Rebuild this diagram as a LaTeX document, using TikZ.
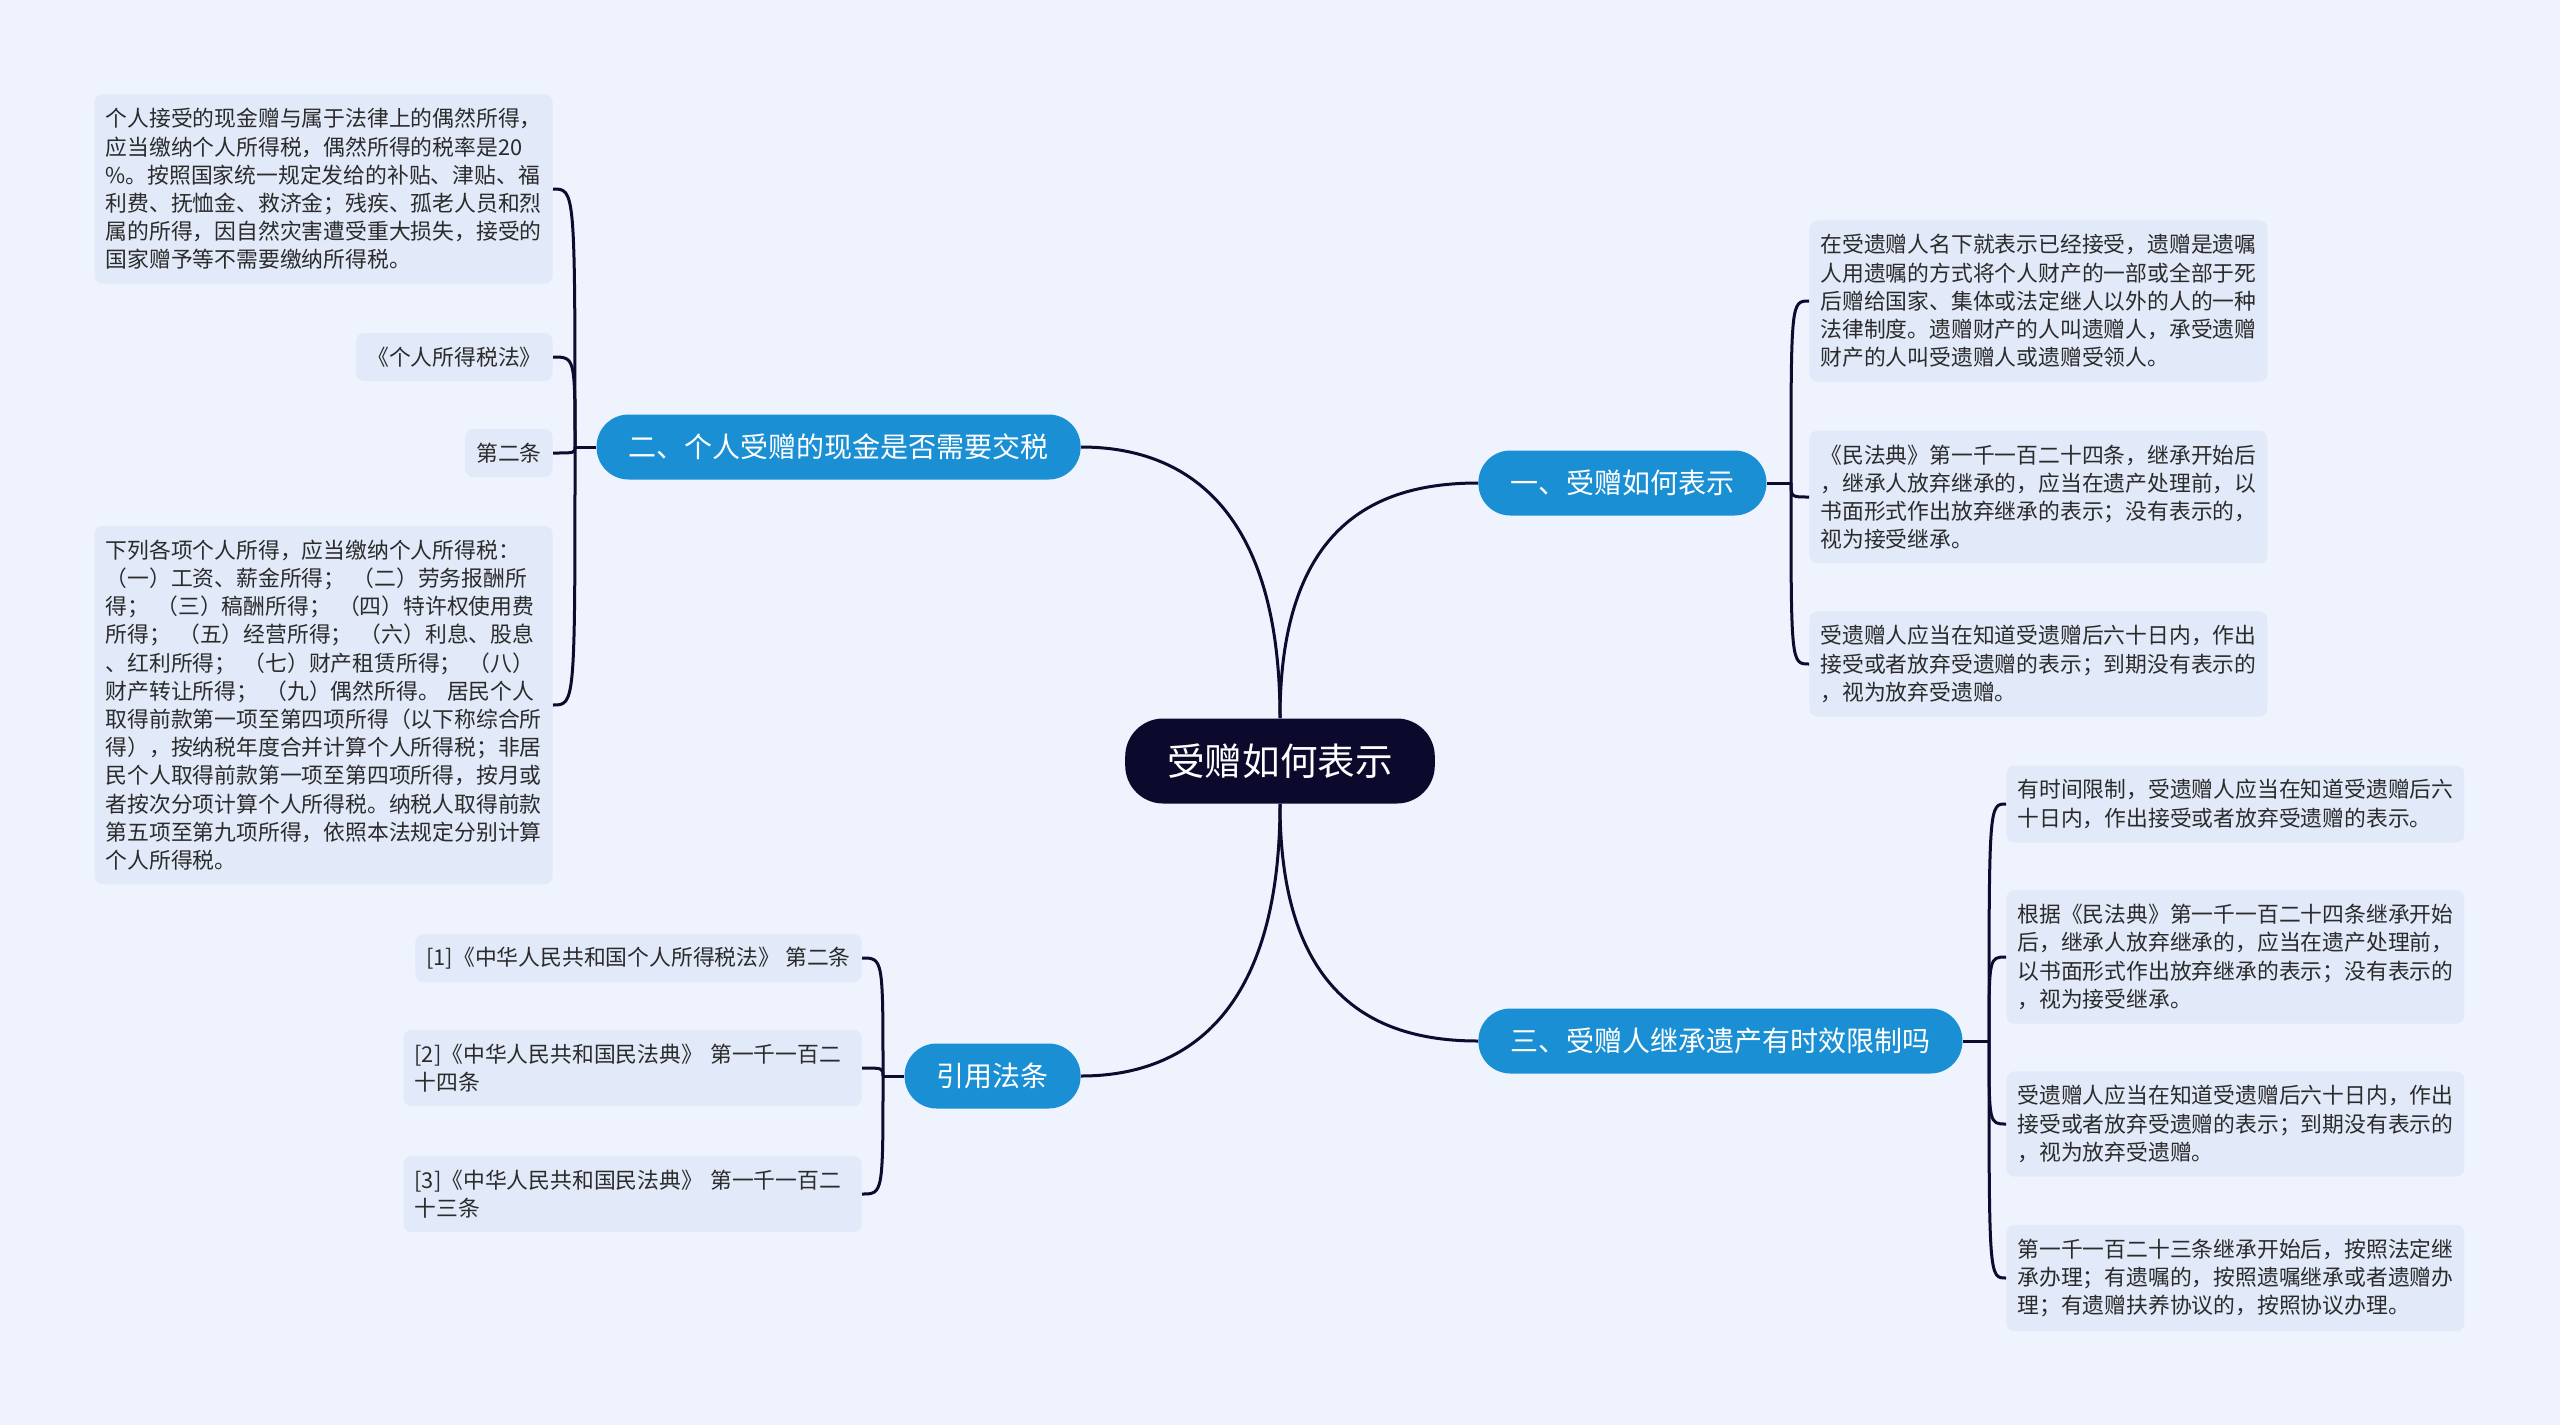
\documentclass[tikz,border=0pt]{standalone}
\usepackage{fontspec}
\setmainfont{Noto Sans CJK SC}
\usepackage{tikz}
\usetikzlibrary{calc}

\definecolor{bgcol}{HTML}{EEF3FD}
\definecolor{leafcol}{HTML}{E2EAF9}
\definecolor{branchcol}{HTML}{1B8FD3}
\definecolor{rootcol}{HTML}{0B0A2C}
\definecolor{linecol}{HTML}{0D0B2E}
\definecolor{textcol}{HTML}{2B2B2B}

\begin{document}
\begin{tikzpicture}[x=0.5pt,y=-0.5pt]
	    \tikzstyle{central}=[fill=rootcol,text=white,rounded corners=19pt,minimum height=42.5pt,inner xsep=21pt,font=\fontsize{18.8pt}{22pt}\selectfont]
	    \tikzstyle{branch}=[fill=branchcol,text=white,rounded corners=16pt,minimum height=32.5pt,inner xsep=16pt,font=\fontsize{14pt}{16pt}\selectfont]
	    \tikzstyle{leaf}=[fill=leafcol,text=textcol,rounded corners=4pt,text width=218pt,align=left,inner xsep=5.5pt,inner ysep=7pt,font=\fontsize{10.9pt}{14.1pt}\selectfont]
	    \tikzstyle{note}=[fill=leafcol,text=textcol,rounded corners=4pt,minimum height=24pt,inner xsep=5.5pt,font=\fontsize{10.9pt}{14.1pt}\selectfont]
	    \tikzstyle{link}=[draw=linecol,line width=1.5pt]

	    \fill[bgcol] (0,0) rectangle (2560,1425);
	    \useasboundingbox (0,0) rectangle (2560,1425);

	    \node[central](root) at (1280,761){受赠如何表示};

	    \node[branch,anchor=west](b1) at (1478,483){一、受赠如何表示};
	    \node[branch,anchor=east](b2) at (1081,447){二、个人受赠的现金是否需要交税};
	    \node[branch,anchor=west](b3) at (1478,1041){三、受赠人继承遗产有时效限制吗};
	    \node[branch,anchor=east](b4) at (1081,1076){引用法条};

	    \coordinate (s1) at (1791,483);
	    \coordinate (s2) at (575,447);
	    \coordinate (s3) at (1989,1041);
	    \coordinate (s4) at (883,1076);

	    \node[leaf,anchor=west](l1a) at (1809,301){在受遗赠人名下就表示已经接受，遗赠是遗嘱\\人用遗嘱的方式将个人财产的一部或全部于死\\后赠给国家、集体或法定继人以外的人的一种\\法律制度。遗赠财产的人叫遗赠人，承受遗赠\\财产的人叫受遗赠人或遗赠受领人。};
	    \node[leaf,anchor=west](l1b) at (1809,497){《民法典》第一千一百二十四条，继承开始后\\，继承人放弃继承的，应当在遗产处理前，以\\书面形式作出放弃继承的表示；没有表示的，\\视为接受继承。};
	    \node[leaf,anchor=west](l1c) at (1809,664){受遗赠人应当在知道受遗赠后六十日内，作出\\接受或者放弃受遗赠的表示；到期没有表示的\\，视为放弃受遗赠。};

	    \node[leaf,anchor=east](l2a) at (553,189){个人接受的现金赠与属于法律上的偶然所得，\\应当缴纳个人所得税，偶然所得的税率是20\\\%。按照国家统一规定发给的补贴、津贴、福\\利费、抚恤金、救济金；残疾、孤老人员和烈\\属的所得，因自然灾害遭受重大损失，接受的\\国家赠予等不需要缴纳所得税。};
	    \node[note,anchor=east](l2b) at (553,357){《个人所得税法》};
	    \node[note,anchor=east](l2c) at (553,453){第二条};
	    \node[leaf,anchor=east](l2d) at (553,705){下列各项个人所得，应当缴纳个人所得税：\\（一）工资、薪金所得； （二）劳务报酬所\\得； （三）稿酬所得； （四）特许权使用费\\所得； （五）经营所得； （六）利息、股息\\、红利所得； （七）财产租赁所得； （八）\\财产转让所得； （九）偶然所得。 居民个人\\取得前款第一项至第四项所得（以下称综合所\\得），按纳税年度合并计算个人所得税；非居\\民个人取得前款第一项至第四项所得，按月或\\者按次分项计算个人所得税。纳税人取得前款\\第五项至第九项所得，依照本法规定分别计算\\个人所得税。};

	    \node[leaf,anchor=west](l3a) at (2006,804){有时间限制，受遗赠人应当在知道受遗赠后六\\十日内，作出接受或者放弃受遗赠的表示。};
	    \node[leaf,anchor=west](l3b) at (2006,957){根据《民法典》第一千一百二十四条继承开始\\后，继承人放弃继承的，应当在遗产处理前，\\以书面形式作出放弃继承的表示；没有表示的\\，视为接受继承。};
	    \node[leaf,anchor=west](l3c) at (2006,1124){受遗赠人应当在知道受遗赠后六十日内，作出\\接受或者放弃受遗赠的表示；到期没有表示的\\，视为放弃受遗赠。};
	    \node[leaf,anchor=west](l3d) at (2006,1278){第一千一百二十三条继承开始后，按照法定继\\承办理；有遗嘱的，按照遗嘱继承或者遗赠办\\理；有遗赠扶养协议的，按照协议办理。};

	    \node[note,anchor=east](l4a) at (862,958){[1]《中华人民共和国个人所得税法》 第二条};
	    \node[leaf,anchor=east](l4b) at (862,1068){[2]《中华人民共和国民法典》 第一千一百二\\十四条};
	    \node[leaf,anchor=east](l4c) at (862,1194){[3]《中华人民共和国民法典》 第一千一百二\\十三条};

	    \draw[link] (root.north) .. controls +(0,-195) and +(-100,0) .. (b1.west);
	    \draw[link] (root.north) .. controls +(0,-215) and +(100,0) .. (b2.east);
	    \draw[link] (root.south) .. controls +(0,195) and +(-100,0) .. (b3.west);
	    \draw[link] (root.south) .. controls +(0,215) and +(100,0) .. (b4.east);

	    \draw[link] (b1.east) -- (s1);
	    \draw[link] (s1) .. controls (s1 |- l1a.west) .. (l1a.west);
	    \draw[link] (s1) .. controls (s1 |- l1b.west) .. (l1b.west);
	    \draw[link] (s1) .. controls (s1 |- l1c.west) .. (l1c.west);

	    \draw[link] (b2.west) -- (s2);
	    \draw[link] (s2) .. controls (s2 |- l2a.east) .. (l2a.east);
	    \draw[link] (s2) .. controls (s2 |- l2b.east) .. (l2b.east);
	    \draw[link] (s2) .. controls (s2 |- l2c.east) .. (l2c.east);
	    \draw[link] (s2) .. controls (s2 |- l2d.east) .. (l2d.east);

	    \draw[link] (b3.east) -- (s3);
	    \draw[link] (s3) .. controls (s3 |- l3a.west) .. (l3a.west);
	    \draw[link] (s3) .. controls (s3 |- l3b.west) .. (l3b.west);
	    \draw[link] (s3) .. controls (s3 |- l3c.west) .. (l3c.west);
	    \draw[link] (s3) .. controls (s3 |- l3d.west) .. (l3d.west);

	    \draw[link] (b4.west) -- (s4);
	    \draw[link] (s4) .. controls (s4 |- l4a.east) .. (l4a.east);
	    \draw[link] (s4) .. controls (s4 |- l4b.east) .. (l4b.east);
	    \draw[link] (s4) .. controls (s4 |- l4c.east) .. (l4c.east);
\end{tikzpicture}
\end{document}
